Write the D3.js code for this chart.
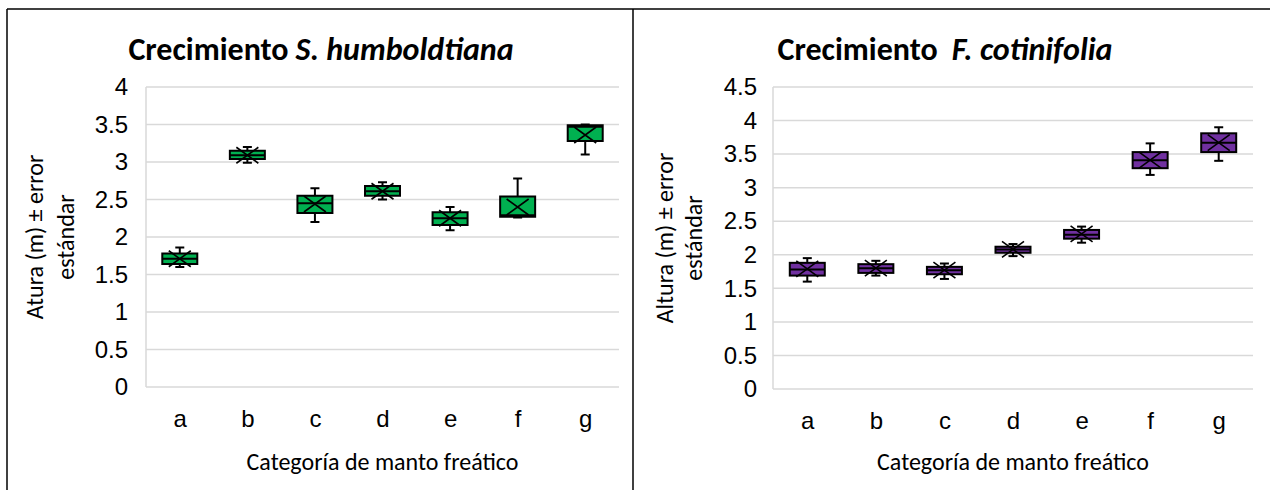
<!DOCTYPE html>
<html>
<head>
<meta charset="utf-8">
<script src="https://cdn.jsdelivr.net/npm/d3@7"></script>
<style>
  body { margin: 0; background: #fff; }
  svg { font-family: Carlito, Calibri, Lato, sans-serif; }
</style>
</head>
<body>
<svg id="chart" width="1270" height="490"></svg>
<script>
// categories shared by both charts
const categories = ["a", "b", "c", "d", "e", "f", "g"];

// S. humboldtiana (left)
const sMin    = [1.60, 2.99, 2.20, 2.50, 2.09, 2.26, 3.10];
const sQ1     = [1.64, 3.04, 2.32, 2.55, 2.16, 2.27, 3.28];
const sMedian = [1.71, 3.09, 2.45, 2.61, 2.25, 2.29, 3.47];
const sQ3     = [1.78, 3.15, 2.55, 2.68, 2.33, 2.54, 3.49];
const sMax    = [1.86, 3.20, 2.65, 2.73, 2.40, 2.78, 3.50];
const sMean   = [1.71, 3.09, 2.44, 2.61, 2.25, 2.40, 3.36];
const sTicks  = [0, 0.5, 1, 1.5, 2, 2.5, 3, 3.5, 4];

// F. cotinifolia (right)
const fMin    = [1.60, 1.69, 1.64, 1.98, 2.18, 3.19, 3.40];
const fQ1     = [1.69, 1.73, 1.71, 2.03, 2.24, 3.29, 3.53];
const fMedian = [1.78, 1.80, 1.77, 2.08, 2.30, 3.41, 3.67];
const fQ3     = [1.88, 1.86, 1.82, 2.12, 2.37, 3.53, 3.81];
const fMax    = [1.95, 1.91, 1.87, 2.16, 2.42, 3.66, 3.90];
const fMean   = [1.79, 1.80, 1.77, 2.08, 2.31, 3.41, 3.67];
const fTicks  = [0, 0.5, 1, 1.5, 2, 2.5, 3, 3.5, 4, 4.5];

const svg = d3.select("#chart");

// outer frame lines
svg.append("line").attr("x1", 7).attr("x2", 1270).attr("y1", 9).attr("y2", 9)
  .attr("stroke", "#000").attr("stroke-width", 1.5);
svg.append("line").attr("x1", 7).attr("x2", 7).attr("y1", 9).attr("y2", 490)
  .attr("stroke", "#000").attr("stroke-width", 1.5);
svg.append("line").attr("x1", 633).attr("x2", 633).attr("y1", 9).attr("y2", 490)
  .attr("stroke", "#000").attr("stroke-width", 1.5);

function boxChart(cfg) {
  const g = svg.append("g");
  const rows = categories.map((c, i) => ({
    cat: c, min: cfg.min[i], q1: cfg.q1[i], med: cfg.median[i],
    q3: cfg.q3[i], max: cfg.max[i], mean: cfg.mean[i]
  }));

  let x = d3.scalePoint().domain(categories).range([cfg.left, cfg.right]).padding(0.5);
  let y = d3.scaleLinear().domain([0, d3.max(cfg.ticks)]).range([cfg.bottom, cfg.top]);

  // gridlines
  g.append("g").selectAll("line").data(cfg.ticks).enter().append("line")
    .attr("x1", cfg.left).attr("x2", cfg.right)
    .attr("y1", d => y(d)).attr("y2", d => y(d))
    .attr("stroke", "#d9d9d9").attr("stroke-width", 1.5);
  g.append("line").attr("x1", cfg.left).attr("x2", cfg.left)
    .attr("y1", cfg.top).attr("y2", cfg.bottom)
    .attr("stroke", "#d9d9d9").attr("stroke-width", 1.5);

  // y axis labels
  let yAxis = d3.axisLeft(y).tickValues(cfg.ticks).tickSize(0).tickPadding(cfg.tickPad)
    .tickFormat(d => String(d));
  g.append("g").attr("transform", `translate(${cfg.left},0)`).call(yAxis)
    .call(a => a.select(".domain").remove())
    .selectAll("text").attr("font-size", 24).attr("fill", "#000")
    .style("font-family", "inherit");

  // x axis labels
  let xAxis = d3.axisBottom(x).tickSize(0).tickPadding(23);
  g.append("g").attr("transform", `translate(0,${cfg.bottom})`).call(xAxis)
    .call(a => a.select(".domain").remove())
    .selectAll("text").attr("font-size", 24).attr("fill", "#000")
    .style("font-family", "inherit");

  const bw = 35, cap = 9, xw = 11, xh = 8;
  const boxes = g.append("g").selectAll("g").data(rows).enter().append("g");

  boxes.append("line")
    .attr("x1", d => x(d.cat)).attr("x2", d => x(d.cat))
    .attr("y1", d => y(d.min)).attr("y2", d => y(d.max))
    .attr("stroke", "#000").attr("stroke-width", 2);
  ["min", "max"].forEach(k => {
    boxes.append("line")
      .attr("x1", d => x(d.cat) - cap / 2).attr("x2", d => x(d.cat) + cap / 2)
      .attr("y1", d => y(d[k])).attr("y2", d => y(d[k]))
      .attr("stroke", "#000").attr("stroke-width", 2);
  });
  boxes.append("rect")
    .attr("x", d => x(d.cat) - bw / 2).attr("width", bw)
    .attr("y", d => y(d.q3)).attr("height", d => y(d.q1) - y(d.q3))
    .attr("fill", cfg.color).attr("stroke", "#000").attr("stroke-width", 2);
  boxes.append("line")
    .attr("x1", d => x(d.cat) - bw / 2).attr("x2", d => x(d.cat) + bw / 2)
    .attr("y1", d => y(d.med)).attr("y2", d => y(d.med))
    .attr("stroke", "#000").attr("stroke-width", 2);
  // mean marker (X)
  boxes.append("path")
    .attr("d", d => {
      let cx = x(d.cat), cy = y(d.mean);
      return `M${cx - xw},${cy - xh}L${cx + xw},${cy + xh}M${cx - xw},${cy + xh}L${cx + xw},${cy - xh}`;
    })
    .attr("stroke", "#000").attr("stroke-width", 1.6).attr("fill", "none");

  // title
  const t = g.append("text").attr("x", cfg.titleX).attr("y", 60)
    .attr("text-anchor", "middle").attr("font-size", 32).attr("font-weight", "bold");
  t.append("tspan").text(cfg.titleA);
  t.append("tspan").attr("font-style", "italic").attr("dx", cfg.titleGap).text(cfg.titleB);

  // y title, two lines
  const cy = (cfg.top + cfg.bottom) / 2;
  g.append("text").attr("transform", `translate(${cfg.yLab1},${cy}) rotate(-90)`)
    .attr("text-anchor", "middle").attr("font-size", 24).text(cfg.yTitle1);
  g.append("text").attr("transform", `translate(${cfg.yLab2},${cy}) rotate(-90)`)
    .attr("text-anchor", "middle").attr("font-size", 24).text(cfg.yTitle2);

  // x title
  g.append("text").attr("x", (cfg.left + cfg.right) / 2).attr("y", 470)
    .attr("text-anchor", "middle").attr("font-size", 24).text("Categoría de manto freático");
}

boxChart({
  min: sMin, q1: sQ1, median: sMedian, q3: sQ3, max: sMax, mean: sMean, ticks: sTicks,
  left: 146, right: 619, top: 87, bottom: 387, tickPad: 18, color: "#00b050",
  titleX: 321, titleA: "Crecimiento", titleB: "S. humboldtiana", titleGap: 7,
  yLab1: 43, yLab2: 74, yTitle1: "Atura (m) ± error", yTitle2: "estándar"
});

boxChart({
  min: fMin, q1: fQ1, median: fMedian, q3: fQ3, max: fMax, mean: fMean, ticks: fTicks,
  left: 773, right: 1253, top: 87, bottom: 389, tickPad: 16, color: "#7030a0",
  titleX: 945, titleA: "Crecimiento", titleB: "F. cotinifolia", titleGap: 14,
  yLab1: 673, yLab2: 702, yTitle1: "Altura (m) ± error", yTitle2: "estándar"
});
</script>
</body>
</html>
